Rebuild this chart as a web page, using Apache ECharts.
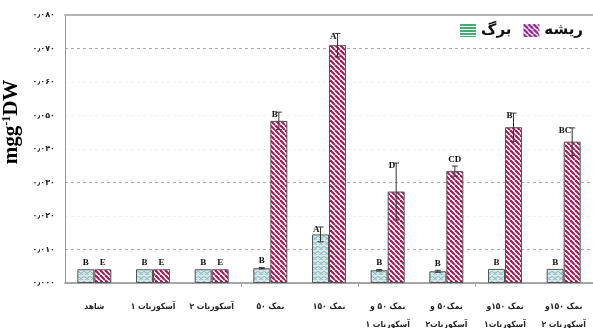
<!DOCTYPE html>
<html>
<head>
<meta charset="utf-8">
<script src="https://cdn.jsdelivr.net/npm/echarts@6/dist/echarts.min.js"></script>
<style>
  html, body { margin: 0; padding: 0; background: #fff; }
  #chart { width: 593px; height: 328px; }
</style>
</head>
<body>
<div id="chart"></div>
<script>
// treatments on the x axis
const categories = [
    'شاهد',
    'آسکوربات ۱',
    'آسکوربات ۲',
    'نمک ۵۰',
    'نمک ۱۵۰',
    'نمک ۵۰ و\nآسکوربات ۱',
    'نمک۵۰ و\nآسکوربات۲',
    'نمک ۱۵۰و\nآسکوربات۱',
    'نمک ۱۵۰و\nآسکوربات ۲'
];
// leaf (برگ) and root (ریشه) values, mg/g DW
const leafValues = [0.0041, 0.0041, 0.0041, 0.0044, 0.0145, 0.0038, 0.0035, 0.0042, 0.0042];
const rootValues = [0.0041, 0.0041, 0.0041, 0.0484, 0.0710, 0.0273, 0.0334, 0.0465, 0.0422];
const leafErrors = [0, 0, 0, 0.0002, 0.0022, 0.0002, 0.0003, 0, 0];
const rootErrors = [0, 0, 0, 0.0026, 0.0035, 0.0085, 0.0015, 0.0042, 0.0041];
const leafLetters = ['B', 'B', 'B', 'B', 'A', 'B', 'B', 'B', 'B'];
const rootLetters = ['E', 'E', 'E', 'B', 'A', 'D', 'CD', 'B', 'BC'];
const yTickLabels = ['۰٫۰۰۰', '۰٫۰۱۰', '۰٫۰۲۰', '۰٫۰۳۰', '۰٫۰۴۰', '۰٫۰۵۰', '۰٫۰۶۰', '۰٫۰۷۰', '۰٫۰۸۰'];

// fill patterns
function makePattern(w, h, draw) {
    const c = document.createElement('canvas');
    c.width = w;
    c.height = h;
    draw(c.getContext('2d'));
    return { image: c, repeat: 'repeat' };
}

const leafFill = makePattern(6, 5, g => {
    g.fillStyle = '#d8e8e9';
    g.fillRect(0, 0, 6, 5);
    g.strokeStyle = '#7aaeb3';
    g.lineWidth = 0.9;
    g.beginPath(); g.arc(3, 0.5, 2.6, 0.2, Math.PI - 0.2); g.stroke();
    g.beginPath(); g.arc(0, 3, 2.6, 0.2, Math.PI - 0.2); g.stroke();
    g.beginPath(); g.arc(6, 3, 2.6, 0.2, Math.PI - 0.2); g.stroke();
});

function stripes(color, size, width) {
    return makePattern(size, size, g => {
        g.fillStyle = '#fff';
        g.fillRect(0, 0, size, size);
        g.strokeStyle = color;
        g.lineWidth = width;
        [-size, 0, size].forEach(k => {
            g.beginPath();
            g.moveTo(k, 0);
            g.lineTo(k + size, size);
            g.stroke();
        });
    });
}
const rootFill = stripes('#9e1d5a', 5, 2.2);
const rootLegendFill = stripes('#8d2a8d', 5, 2.4);

const leafLegendFill = makePattern(2, 3, g => {
    g.fillStyle = '#fff';
    g.fillRect(0, 0, 2, 3);
    g.fillStyle = '#3fae70';
    g.fillRect(0, 0, 2, 2);
});

// error bars + significance letters
function markRenderer(values, errors, letters, shift) {
    return function (params, api) {
        const i = params.dataIndex;
        const v = values[i];
        const e = errors[i];
        const base = api.coord([i, v]);
        const x = base[0] + shift;
        const children = [];
        const lineStyle = { stroke: '#333', lineWidth: 1 };
        let top = base[1];
        if (e > 0) {
            top = api.coord([i, v + e])[1];
            const bot = api.coord([i, v - e])[1];
            children.push(
                { type: 'line', shape: { x1: x, y1: top, x2: x, y2: bot }, style: lineStyle },
                { type: 'line', shape: { x1: x - 3, y1: top, x2: x + 3, y2: top }, style: lineStyle },
                { type: 'line', shape: { x1: x - 3, y1: bot, x2: x + 3, y2: bot }, style: lineStyle }
            );
        }
        const font = 'bold 9px "Liberation Serif"';
        if (e > 0.002) {
            children.push({
                type: 'text', x: x - 1, y: top + 3,
                style: { text: letters[i], font: font, fill: '#111', align: 'right', verticalAlign: 'middle' }
            });
        } else {
            children.push({
                type: 'text', x: x, y: top - 2,
                style: { text: letters[i], font: font, fill: '#111', align: 'center', verticalAlign: 'bottom' }
            });
        }
        return { type: 'group', children: children };
    };
}

const chart = echarts.init(document.getElementById('chart'));

const option = {
    animation: false,
    backgroundColor: '#fff',
    grid: { left: 65, right: 0, top: 15, bottom: 45, containLabel: false, outerBoundsMode: 'none' },
    legend: {
        data: [
            { name: 'برگ', itemStyle: { color: leafLegendFill, borderWidth: 0 } },
            { name: 'ریشه', itemStyle: { color: rootLegendFill, borderWidth: 0 } }
        ],
        icon: 'rect',
        right: 5,
        top: 18,
        itemWidth: 16,
        itemHeight: 13,
        itemGap: 12,
        textStyle: { fontFamily: 'DejaVu Sans', fontSize: 15, fontWeight: 'bold', color: '#111' }
    },
    xAxis: [
        {
            type: 'category',
            data: categories,
            axisLine: { lineStyle: { color: '#8c8c8c', width: 1.5 } },
            axisTick: {
                show: true,
                length: 4,
                interval: i => i === 3 || i === 5 || i === 7,
                lineStyle: { color: '#aaa' }
            },
            axisLabel: {
                interval: 0,
                margin: 15,
                fontFamily: 'DejaVu Sans Condensed',
                fontWeight: 'bold',
                fontSize: 8.5,
                lineHeight: 18,
                color: '#222'
            }
        },
        {
            type: 'category',
            position: 'top',
            data: categories,
            axisLine: { lineStyle: { color: '#b5b5b5', width: 2 } },
            axisTick: { show: false },
            axisLabel: { show: false }
        }
    ],
    yAxis: {
        type: 'value',
        min: 0,
        max: 0.08,
        interval: 0.01,
        axisLine: { show: true, lineStyle: { color: '#999' } },
        axisTick: { show: false },
        axisLabel: {
            formatter: v => yTickLabels[Math.round(v / 0.01)],
            fontFamily: 'DejaVu Sans',
            fontSize: 8,
            fontWeight: 'bold',
            color: '#222',
            margin: 10
        },
        splitLine: {
            lineStyle: {
                type: [3, 3],
                color: ['#ddd', '#aaa', '#f0f0f0', '#aaa', '#f0f0f0', '#f0f0f0', '#f0f0f0', '#aaa', '#bbb']
            }
        },
        name: '{a|mgg}{s|-1}{a|DW}',
        nameLocation: 'middle',
        nameRotate: 90,
        nameGap: 38,
        nameTextStyle: {
            padding: [0, 0, 0, 54],
            rich: {
                a: { fontFamily: 'Liberation Serif', fontWeight: 'bold', fontSize: 21, color: '#000' },
                s: { fontFamily: 'Liberation Serif', fontWeight: 'bold', fontSize: 12, color: '#000', verticalAlign: 'top' }
            }
        }
    },
    series: [
        {
            name: 'برگ',
            type: 'bar',
            data: leafValues,
            barWidth: 17,
            barGap: '0%',
            itemStyle: { color: leafFill, borderColor: '#555', borderWidth: 1 }
        },
        {
            name: 'ریشه',
            type: 'bar',
            data: rootValues,
            barWidth: 17,
            barGap: '0%',
            itemStyle: { color: rootFill, borderColor: '#555', borderWidth: 1 }
        },
        {
            type: 'custom',
            data: leafValues.map((v, i) => [i, v]),
            encode: { x: 0, y: 1 },
            z: 5,
            renderItem: markRenderer(leafValues, leafErrors, leafLetters, -8.5)
        },
        {
            type: 'custom',
            data: rootValues.map((v, i) => [i, v]),
            encode: { x: 0, y: 1 },
            z: 5,
            renderItem: markRenderer(rootValues, rootErrors, rootLetters, 8.5)
        }
    ]
};

chart.setOption(option);
</script>
</body>
</html>
